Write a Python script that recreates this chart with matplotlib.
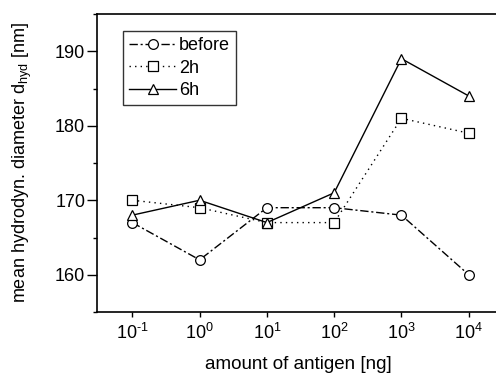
import matplotlib
matplotlib.use("Agg")
import matplotlib.pyplot as plt
import numpy as np
from matplotlib.ticker import MultipleLocator, FixedLocator, FuncFormatter, NullLocator

plt.rcParams['font.family'] = ['Liberation Sans', 'DejaVu Sans']
plt.rcParams['mathtext.fontset'] = 'custom'
plt.rcParams['mathtext.rm'] = 'Liberation Sans'
plt.rcParams['mathtext.it'] = 'Liberation Sans'
plt.rcParams['axes.unicode_minus'] = False

antigen = [1e-1, 1e0, 1e1, 1e2, 1e3, 1e4]
before = [167, 162, 169, 169, 168, 160]
after2h = [170, 169, 167, 167, 181, 179]
after6h = [168, 170, 167, 171, 189, 184]


def powerLabel(x, pos):
    e = int(round(np.log10(x)))
    s = str(e).replace('-', '\u2010')
    return '$\\mathregular{10^{' + s + '}}$'


fig = plt.figure(figsize=(4.96, 3.74), dpi=100)
ax = fig.add_axes([97 / 496, 1 - 312 / 374, 402 / 496, 298 / 374])

mk = dict(markersize=7, markerfacecolor='white', markeredgecolor='black',
          markeredgewidth=0.9, color='black', linewidth=1.0)
ax.plot(antigen, before, linestyle=(0, (6, 2, 1.5, 2)), marker='o', label='before', **mk)
ax.plot(antigen, after2h, linestyle=(0, (1, 3)), marker='s', label='2h', **mk)
ax.plot(antigen, after6h, linestyle='-', marker='^', label='6h', **mk)

ax.set_xscale('log')
ax.set_xlim(10 ** -1.525, 10 ** 4.45)
ax.set_ylim(155, 195)
ax.xaxis.set_major_locator(FixedLocator(antigen))
ax.xaxis.set_major_formatter(FuncFormatter(powerLabel))
ax.xaxis.set_minor_locator(NullLocator())
ax.yaxis.set_major_locator(MultipleLocator(10))
ax.yaxis.set_minor_locator(MultipleLocator(5))
ax.set_yticks([160, 170, 180, 190])

ax.tick_params(axis='y', which='major', direction='out', length=7, width=1, labelsize=13, pad=1.5)
ax.tick_params(axis='y', which='minor', direction='out', length=3, width=1)
ax.tick_params(axis='x', which='major', direction='out', length=3.5, width=1, labelsize=13, pad=4)
for s in ax.spines.values():
    s.set_linewidth(1.2)

ax.set_xlabel('amount of antigen [ng]', fontsize=13.5, labelpad=10)
ax.set_ylabel('mean hydrodyn. diameter d$_{\\mathregular{hyd}}$ [nm]', fontsize=13, labelpad=15)

leg = ax.legend(loc='upper left', bbox_to_anchor=(0.065, 0.943), borderaxespad=0,
                fontsize=13, handlelength=2.6, handletextpad=0.15, labelspacing=0.3,
                borderpad=0.35, fancybox=False, frameon=True)
leg.get_frame().set_edgecolor('black')
leg.get_frame().set_linewidth(1.0)

fig.savefig('out.png', dpi=100)
